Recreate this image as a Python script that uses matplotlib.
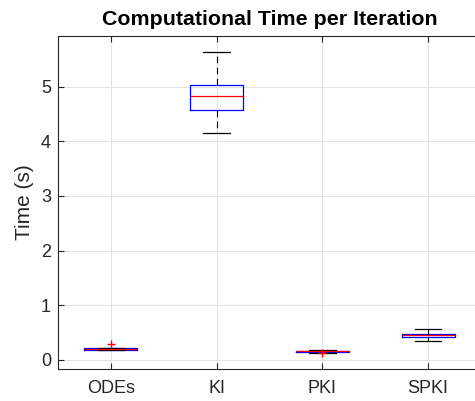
import matplotlib
matplotlib.use("Agg")
import matplotlib.pyplot as plt

categories = ["ODEs", "KI", "PKI", "SPKI"]
med = [0.20, 4.82, 0.16, 0.45]
q1 = [0.19, 4.58, 0.15, 0.42]
q3 = [0.21, 5.03, 0.17, 0.48]
whislo = [0.19, 4.15, 0.13, 0.34]
whishi = [0.21, 5.63, 0.18, 0.56]
fliers = [[0.30], [], [0.12], []]

plt.rcParams['font.family'] = ['Liberation Sans', 'DejaVu Sans']
fig = plt.figure(figsize=(4.75, 4.01), dpi=100)
W, H = 475, 401
left, right, top, bottom = 58, 481, 35.7, 368.7
ax = fig.add_axes([left / W, 1 - bottom / H, (right - left) / W, (bottom - top) / H])

stats = []
for i, c in enumerate(categories):
    stats.append(dict(label=c, med=med[i], q1=q1[i], q3=q3[i],
                      whislo=whislo[i], whishi=whishi[i], fliers=fliers[i]))

ax.bxp(stats, positions=range(1, len(categories) + 1), widths=0.5,
       boxprops=dict(color='#0000ff', linewidth=0.9),
       medianprops=dict(color='#ff0000', linewidth=0.9),
       whiskerprops=dict(color='black', linewidth=0.8, linestyle=(0, (6, 4))),
       capprops=dict(color='black', linewidth=0.9),
       flierprops=dict(marker='+', markeredgecolor='#ff0000', markersize=6, linestyle='none'),
       capwidths=0.25, zorder=3)

ax.set_xlim(0.5, 4.5)
ax.set_ylim(-0.16, 5.93)
ax.set_yticks([0, 1, 2, 3, 4, 5])
ax.set_xticks([1, 2, 3, 4])
ax.set_xticklabels(categories)
ax.grid(True, color='#e3e3e3', linewidth=0.8, zorder=0)
ax.set_axisbelow(True)
ax.tick_params(direction='in', length=4, width=0.8, colors='#262626',
               labelsize=13, top=True, right=True)
ax.tick_params(axis='y', pad=5)
ax.tick_params(axis='x', pad=8)
for s in ax.spines.values():
    s.set_color('#262626')
    s.set_linewidth(0.8)
ax.set_ylabel('Time (s)', fontsize=15, color='#262626')
ax.yaxis.set_label_coords((34 - left) / (right - left), 0.5)
ax.set_title('Computational Time per Iteration', fontsize=15.4, fontweight='bold',
             color='black', pad=8)

fig.savefig('out.png', dpi=100)
